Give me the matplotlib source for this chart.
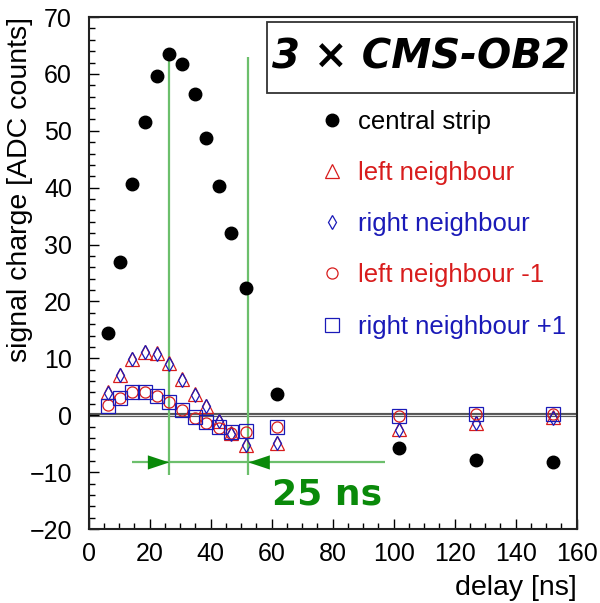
import matplotlib
matplotlib.use('Agg')
import matplotlib.pyplot as plt
from matplotlib.patches import Rectangle
from matplotlib.ticker import MultipleLocator

plt.rcParams['font.family'] = ['Liberation Sans', 'DejaVu Sans']

# data
delay = [6.2, 10.3, 14.3, 18.4, 22.4, 26.4, 30.5, 34.9, 38.6, 42.6, 46.6,
         51.6, 61.6, 101.8, 127.0, 152.1]
central = [14.4, 27.0, 40.6, 51.5, 59.7, 63.5, 61.7, 56.4, 48.8, 40.3, 32.1,
           22.4, 3.8, -5.8, -7.9, -8.3]
left_nb = [4.0, 7.1, 9.9, 11.2, 10.9, 9.1, 6.3, 3.7, 1.7, -1.0, -3.2,
           -5.2, -4.8, -2.5, -1.3, -0.3]
right_nb = [3.9, 7.0, 9.8, 11.1, 10.8, 9.0, 6.2, 3.6, 1.6, -1.1, -3.3,
            -5.3, -4.9, -2.6, -1.4, -0.4]
left_nb_m1 = [1.8, 3.1, 4.0, 4.0, 3.4, 2.3, 0.9, -0.4, -1.3, -2.2, -3.1,
              -2.9, -2.1, -0.2, 0.2, 0.2]
right_nb_p1 = [1.7, 3.0, 4.0, 4.0, 3.4, 2.4, 1.0, -0.3, -1.2, -2.1, -3.0,
               -2.8, -2.0, -0.1, 0.3, 0.3]

# 25 ns marker lines
period_lines = [26.4, 52.4]
red = '#d81c1c'
blue = '#1a1ab8'
green_line = '#6cbf6c'
green_dark = '#0a8a0a'

fig = plt.figure(figsize=(6.0, 6.03), dpi=100)
ax = fig.add_axes([0.1478, 0.1227, 0.8133, 0.8491])

ax.set_xlim(0, 160)
ax.set_ylim(-20, 70)

# zero line (double)
ax.axhline(0, color='#555555', lw=3.0, zorder=1)
ax.axhline(0, color='#dddddd', lw=0.8, zorder=1)

# green guide lines
ax.vlines(period_lines, -10.5, 63, color=green_line, lw=1.6, zorder=2)
ax.hlines(-8.3, 14.1, 97.1, color=green_line, lw=1.6, zorder=2)
ax.fill([19.4, 26.4, 19.4], [-7.05, -8.3, -9.55], color=green_dark, lw=0, zorder=3)
ax.fill([59.4, 52.4, 59.4], [-7.05, -8.3, -9.55], color=green_dark, lw=0, zorder=3)
ax.text(78, -13.9, '25 ns', color=green_dark, fontsize=26, fontweight='bold',
        family='DejaVu Sans', ha='center', va='center')

h1, = ax.plot(delay, central, 'o', color='black', ms=9, ls='none', zorder=6,
              label='central strip')
h2, = ax.plot(delay, left_nb, '^', mfc='none', mec=red, mew=0.9, ms=10,
              ls='none', zorder=5, label='left neighbour')
h3, = ax.plot(delay, right_nb, 'd', mfc='none', mec=blue, mew=0.9, ms=7,
              ls='none', zorder=5, label='right neighbour')
h4, = ax.plot(delay, left_nb_m1, 'o', mfc='none', mec=red, mew=0.9, ms=8,
              ls='none', zorder=5, label='left neighbour -1')
h5, = ax.plot(delay, right_nb_p1, 's', mfc='none', mec=blue, mew=0.9, ms=10,
              ls='none', zorder=5, label='right neighbour +1')

leg = ax.legend(handles=[h1, h2, h3, h4, h5], loc='upper left',
                bbox_to_anchor=(0.472, 0.819), frameon=False, fontsize=18.5,
                handlelength=1.0, handletextpad=0.5, labelspacing=1.06,
                borderpad=0, borderaxespad=0, numpoints=1)
for t, c in zip(leg.get_texts(), ['black', red, blue, red, blue]):
    t.set_color(c)

# title box
ax.add_patch(Rectangle((0.365, 0.852), 0.6295, 0.139, transform=ax.transAxes,
                       fill=False, ec='#333333', lw=1.3, zorder=7))
ax.text(0.68, 0.921, '3 × CMS-OB2', transform=ax.transAxes, fontsize=29,
        fontweight='bold', style='italic', family='DejaVu Sans',
        ha='center', va='center', zorder=8)

ax.xaxis.set_major_locator(MultipleLocator(20))
ax.xaxis.set_minor_locator(MultipleLocator(5))
ax.yaxis.set_major_locator(MultipleLocator(10))
ax.yaxis.set_minor_locator(MultipleLocator(2))
ax.tick_params(which='both', direction='in', top=False, right=False,
               labelsize=18, width=1.0)
ax.tick_params(which='major', length=7)
ax.tick_params(which='minor', length=4)
ax.tick_params(axis='y', pad=12)
ax.tick_params(axis='x', pad=9)
for s in ax.spines.values():
    s.set_linewidth(1.5)
    s.set_color('#222222')

ax.set_xlabel('delay [ns]', fontsize=20.5, loc='right', labelpad=7)
ax.set_ylabel('signal charge [ADC counts]', fontsize=20.5, loc='top')
ax.yaxis.set_label_coords(-0.114, 1.0)

fig.savefig('out.png', dpi=100)
